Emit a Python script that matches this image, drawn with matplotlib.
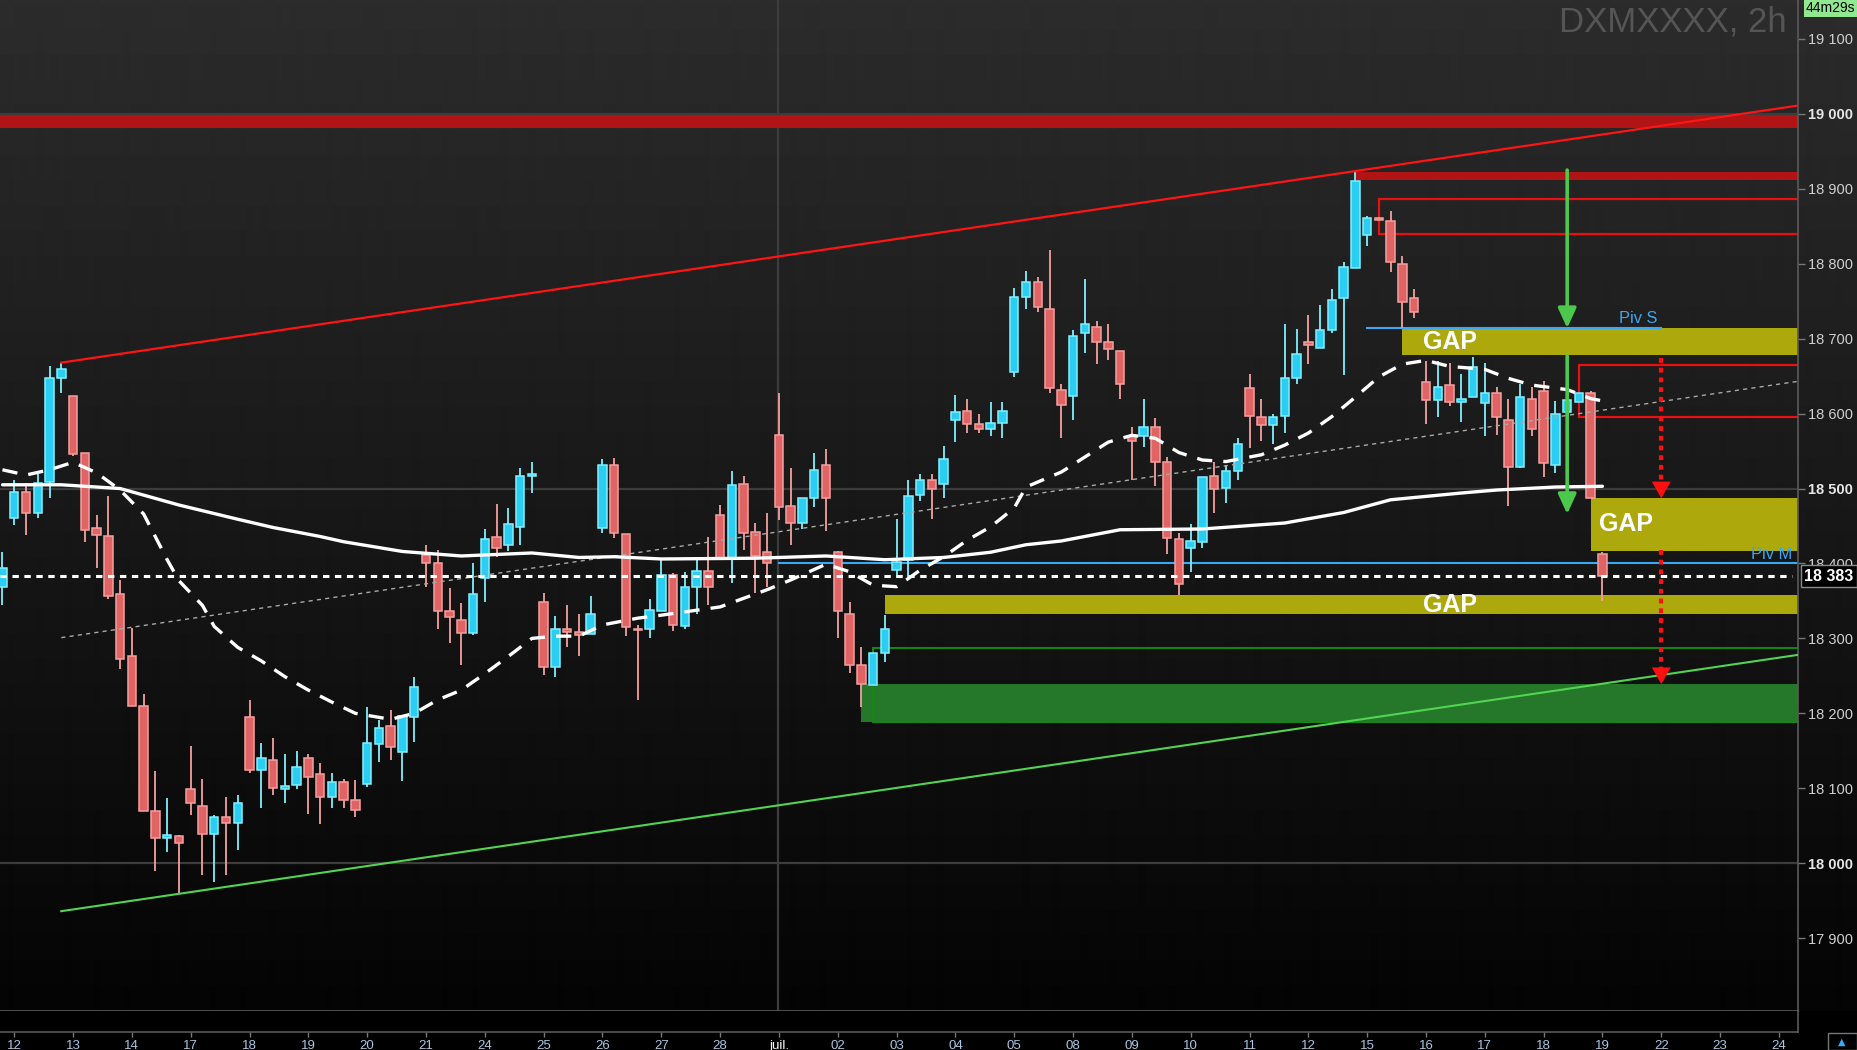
#!/usr/bin/env python3
"""DXMXXXX 2h candlestick chart: channel, moving averages, gaps and pivots."""
from __future__ import annotations

import numpy as np
import matplotlib
matplotlib.use('Agg')
import matplotlib.pyplot as plt
import matplotlib.transforms as mtransforms
from matplotlib.patches import Rectangle

# --- 2h candles, 5 bars per session; bar 0 is the last bar of 11 June
OPEN = [18369, 18461, 18496, 18468, 18509, 18648, 18624, 18547, 18447, 18437,
        18359, 18277, 18210, 18070, 18034, 18036, 18099, 18076, 18039, 18062,
        18054, 18195, 18125, 18138, 18099, 18105, 18140, 18119, 18089, 18108,
        18085, 18106, 18159, 18183, 18149, 18195, 18411, 18400, 18337, 18324,
        18307, 18380, 18435, 18424, 18449, 18517, 18348, 18262, 18313, 18309,
        18306, 18447, 18532, 18439, 18313, 18313, 18336, 18385, 18317, 18369,
        18390, 18465, 18407, 18506, 18442, 18415, 18571, 18477, 18454, 18487,
        18532, 18415, 18333, 18265, 18238, 18281, 18391, 18404, 18492, 18512,
        18506, 18591, 18603, 18586, 18579, 18588, 18655, 18755, 18775, 18739,
        18632, 18623, 18707, 18715, 18695, 18683, 18570, 18570, 18582, 18536,
        18432, 18420, 18429, 18517, 18501, 18523, 18634, 18595, 18585, 18597,
        18648, 18695, 18688, 18711, 18754, 18794, 18838, 18861, 18857, 18799,
        18754, 18642, 18618, 18638, 18616, 18622, 18614, 18628, 18592, 18529,
        18620, 18630, 18532, 18602, 18616, 18627, 18412]
HIGH = [18415, 18512, 18508, 18520, 18664, 18668, 18624, 18547, 18465, 18490,
        18378, 18314, 18226, 18123, 18087, 18038, 18156, 18113, 18064, 18089,
        18091, 18218, 18160, 18167, 18146, 18150, 18146, 18134, 18121, 18113,
        18111, 18209, 18191, 18204, 18197, 18248, 18425, 18418, 18367, 18347,
        18400, 18446, 18479, 18474, 18528, 18535, 18361, 18330, 18345, 18333,
        18356, 18539, 18541, 18439, 18318, 18353, 18405, 18387, 18389, 18404,
        18435, 18478, 18523, 18517, 18454, 18467, 18628, 18528, 18487, 18548,
        18553, 18417, 18348, 18289, 18280, 18331, 18459, 18511, 18519, 18520,
        18557, 18625, 18619, 18600, 18615, 18616, 18767, 18790, 18782, 18818,
        18640, 18712, 18780, 18724, 18719, 18683, 18582, 18619, 18594, 18542,
        18440, 18453, 18516, 18535, 18531, 18567, 18653, 18620, 18600, 18720,
        18713, 18731, 18745, 18766, 18802, 18922, 18864, 18862, 18870, 18810,
        18766, 18670, 18670, 18667, 18653, 18676, 18668, 18635, 18619, 18639,
        18635, 18643, 18617, 18618, 18627, 18630, 18415]
LOW = [18345, 18451, 18438, 18461, 18488, 18627, 18544, 18429, 18394, 18353,
       18259, 18210, 18070, 17989, 18015, 17960, 18065, 17984, 17975, 17984,
       18018, 18121, 18074, 18091, 18081, 18099, 18066, 18053, 18074, 18074,
       18062, 18102, 18135, 18138, 18110, 18162, 18369, 18313, 18294, 18264,
       18304, 18349, 18408, 18416, 18425, 18494, 18251, 18249, 18289, 18276,
       18306, 18441, 18434, 18303, 18218, 18301, 18336, 18310, 18313, 18333,
       18345, 18407, 18374, 18418, 18361, 18369, 18458, 18424, 18446, 18476,
       18443, 18300, 18254, 18209, 18238, 18269, 18381, 18382, 18484, 18459,
       18488, 18562, 18574, 18574, 18570, 18568, 18649, 18740, 18735, 18628,
       18568, 18592, 18681, 18666, 18671, 18619, 18512, 18556, 18503, 18412,
       18358, 18388, 18420, 18468, 18481, 18512, 18554, 18564, 18560, 18574,
       18639, 18666, 18688, 18707, 18651, 18794, 18823, 18858, 18789, 18714,
       18727, 18586, 18596, 18610, 18589, 18622, 18570, 18571, 18477, 18527,
       18570, 18516, 18521, 18602, 18616, 18488, 18350]
CLOSE = [18394, 18496, 18468, 18508, 18647, 18659, 18546, 18444, 18438, 18357,
         18273, 18210, 18070, 18034, 18037, 18027, 18081, 18039, 18062, 18054,
         18080, 18125, 18141, 18101, 18103, 18129, 18115, 18089, 18108, 18085,
         18071, 18161, 18181, 18155, 18197, 18235, 18400, 18337, 18328, 18307,
         18359, 18433, 18421, 18452, 18517, 18520, 18262, 18313, 18309, 18305,
         18333, 18531, 18440, 18315, 18311, 18338, 18385, 18318, 18368, 18390,
         18368, 18407, 18505, 18440, 18410, 18400, 18476, 18454, 18487, 18525,
         18487, 18336, 18265, 18239, 18280, 18313, 18402, 18490, 18511, 18500,
         18540, 18602, 18586, 18579, 18588, 18603, 18755, 18775, 18742, 18634,
         18612, 18704, 18720, 18695, 18686, 18639, 18564, 18582, 18535, 18434,
         18373, 18430, 18515, 18500, 18524, 18560, 18597, 18585, 18595, 18647,
         18679, 18692, 18712, 18752, 18795, 18911, 18861, 18858, 18802, 18749,
         18736, 18618, 18636, 18615, 18620, 18662, 18627, 18595, 18529, 18622,
         18579, 18534, 18600, 18618, 18627, 18488, 18383]

DAY_LABELS = ['12', '13', '14', '17', '18', '19', '20', '21', '24', '25', '26',
              '27', '28', 'juil.', '02', '03', '04', '05', '08', '09', '10',
              '11', '12', '15', '16', '17', '18', '19', '22', '23', '24']
BARS_PER_DAY = 5
FIRST_DAY_BAR = 1

# moving averages (bar index, value)
MA200_X = [0, 5, 10, 15, 20, 23, 27, 29, 34, 39, 45, 49, 52, 56, 64, 70, 75,
           80, 84, 87, 90, 95, 102, 109, 114, 118, 124, 127, 132, 136]
MA200_Y = [18505, 18505, 18500, 18478, 18459, 18448, 18436, 18429, 18416,
           18410, 18414, 18408, 18409, 18406, 18407, 18410, 18405, 18408,
           18415, 18425, 18430, 18445, 18446, 18454, 18468, 18485, 18494,
           18498, 18502, 18503]
MA20_X = [0, 2, 4, 6, 8, 10, 12, 14, 15, 17, 18, 20, 22, 24, 26, 28, 30, 33,
          35, 37, 39, 41, 43, 45, 47, 49, 51, 54, 56, 61, 65, 67, 70, 72, 74,
          76, 78, 80, 82, 84, 86, 87, 90, 92, 94, 96, 98, 100, 102, 104, 107,
          109, 111, 113, 115, 117, 119, 121, 123, 126, 128, 130, 133, 135, 136]
MA20_Y = [18525, 18518, 18525, 18535, 18521, 18498, 18466, 18405, 18377,
          18344, 18316, 18288, 18270, 18249, 18231, 18215, 18200, 18192,
          18200, 18218, 18231, 18253, 18276, 18300, 18303, 18303, 18318,
          18327, 18331, 18342, 18365, 18378, 18399, 18389, 18371, 18369,
          18391, 18409, 18431, 18449, 18474, 18502, 18522, 18542, 18562,
          18571, 18567, 18548, 18538, 18536, 18545, 18558, 18574, 18596,
          18622, 18649, 18666, 18671, 18663, 18659, 18647, 18638, 18632,
          18620, 18617]

# channel lines: anchor bar -> right edge
CHANNEL_X = [5, 152.6]
CHANNEL_TOP = [18668, 19011]
CHANNEL_MID = [18301, 18643]
CHANNEL_LOW = [17936, 18278]

# zones: (start bar, low, high), all run to the right edge
GAP_ZONES = [(119, 18678, 18714), (135, 18416, 18488), (75, 18332, 18358)]
GAP_TEXT_X = [123.0, 138.0, 123.0]
RED_BANDS = [(-1, 18981, 18998), (115, 18912, 18923)]
RED_BOXES = [(117, 18840, 18887), (134, 18596, 18665)]
GREEN_FILL = (73, 18188, 18239)
GREEN_BOX = (74, 18188, 18287)
PIV_S = (116, 141, 18714)
PIV_M = (66, 18400)
LAST_PRICE = 18383

GREEN_ARROWS = [(133, 18925, 18714), (133, 18677, 18466)]
RED_ARROWS = [(141, 18674, 18487), (141, 18418, 18239)]

XLIM = (-0.21, 152.62)
YLIM = (17802.8, 19151.9)

CYAN, CYAN_EDGE = '#2ccdf3', '#80f0ff'
RED, RED_EDGE = '#e06464', '#f5a0a0'
OLIVE = '#ada80c'
BLUE = '#3aa8f2'


def fmt_price(v: float) -> str:
    return f"{int(round(v)):,}".replace(',', ' ')


def main() -> None:
    plt.rcParams['font.family'] = ['Liberation Sans', 'DejaVu Sans']
    plt.rcParams['lines.scale_dashes'] = False

    W, H = 1857, 1050
    fig = plt.figure(figsize=(W / 100, H / 100), dpi=100)
    fig.patch.set_facecolor('black')

    # background gradient
    bg = fig.add_axes([0, 0, 1, 1], zorder=-10)
    rows = np.zeros(H)
    top_part = 1011
    rows[:top_part] = np.linspace(44, 4, top_part)
    bg.imshow(rows[:, None], aspect='auto', cmap='gray', vmin=0, vmax=255,
              extent=[0, 1, 0, 1], interpolation='bilinear')
    bg.axis('off')

    ax = fig.add_axes([0, 39 / H, 1798 / W, 1011 / H])
    ax.patch.set_alpha(0)
    ax.set_xlim(*XLIM)
    ax.set_ylim(*YLIM)
    xmax = XLIM[1]

    # grid
    for lvl in (18000, 18500, 19000):
        ax.axhline(lvl, color='#3c3c3c', lw=1.6, zorder=0.5)
    ax.axvline(66 - 0.08, color='#3c3c3c', lw=1.6, zorder=0.5)

    # zones
    for x0, lo, hi in GAP_ZONES:
        ax.add_patch(Rectangle((x0, lo), xmax - x0, hi - lo, fc=OLIVE,
                               ec='none', zorder=1))
    for x0, lo, hi in RED_BANDS:
        ax.add_patch(Rectangle((x0, lo), xmax - x0 + 1, hi - lo, fc='#b01414',
                               ec='none', zorder=1))
    for x0, lo, hi in RED_BOXES:
        ax.add_patch(Rectangle((x0, lo), xmax - x0 + 1, hi - lo, fc='none',
                               ec='#e81010', lw=1.6, zorder=1.2))
    x0, lo, hi = GREEN_FILL
    ax.add_patch(Rectangle((x0, lo), xmax - x0, hi - lo, fc='#25782a',
                           ec='none', zorder=1))
    x0, lo, hi = GREEN_BOX
    ax.add_patch(Rectangle((x0, lo), xmax - x0 + 1, hi - lo, fc='none',
                           ec='#128a12', lw=1.4, zorder=1.2))

    # pivots
    ax.plot([PIV_S[0], PIV_S[1]], [PIV_S[2], PIV_S[2]], color=BLUE, lw=1.5,
            zorder=2)
    ax.text(PIV_S[1] - 0.3, PIV_S[2] + 3, 'Piv S', color=BLUE, fontsize=11.8,
            ha='right', va='bottom', zorder=6)
    ax.plot([PIV_M[0], xmax], [PIV_M[1], PIV_M[1]], color=BLUE, lw=1.5,
            zorder=2)
    ax.text(xmax - 0.5, PIV_M[1] + 2, 'Piv M', color=BLUE, fontsize=11.8,
            ha='right', va='bottom', zorder=6)

    # candles
    o, h, l, c = (np.asarray(a, float) for a in (OPEN, HIGH, LOW, CLOSE))
    idx = np.arange(len(o))
    up = c >= o
    for mask, face, edge in ((up, CYAN, CYAN_EDGE), (~up, RED, RED_EDGE)):
        ax.vlines(idx[mask], l[mask], h[mask], color=edge, lw=1.3, zorder=3)
        ax.bar(idx[mask], (c - o)[mask], bottom=o[mask], width=0.72,
               color=face, edgecolor=edge, linewidth=1.1, zorder=3.1)

    # channel
    ax.plot(CHANNEL_X, CHANNEL_TOP, color='#ff1414', lw=1.6, zorder=4)
    ax.plot(CHANNEL_X, CHANNEL_LOW, color='#52d452', lw=1.5, zorder=4)
    ax.plot(CHANNEL_X, CHANNEL_MID, color='#a8a8a8', lw=1.0,
            dashes=(3, 3), zorder=4)

    # moving averages
    ax.plot(MA200_X, MA200_Y, color='white', lw=2.4, zorder=4.2,
            solid_capstyle='round', solid_joinstyle='round')
    ax.plot(MA20_X, MA20_Y, color='white', lw=2.4, dashes=(11, 8),
            zorder=4.2)

    # last price
    ax.plot([XLIM[0], xmax - 0.5], [LAST_PRICE, LAST_PRICE], color='white',
            lw=2.2, dashes=(4.6, 4), zorder=4.5)

    # GAP labels
    for (x0, lo, hi), tx in zip(GAP_ZONES, GAP_TEXT_X):
        ax.text(tx, (lo + hi) / 2, 'GAP', color='white', fontsize=18,
                fontweight='bold', ha='center', va='center', zorder=6)

    # arrows
    for x, y0, y1 in GREEN_ARROWS:
        ax.annotate('', xy=(x, y1), xytext=(x, y0), zorder=5,
                    arrowprops=dict(arrowstyle='-|>,head_length=1.2,head_width=0.55',
                                    color='#4cc84c', lw=2.6, shrinkA=0,
                                    shrinkB=0, mutation_scale=10))
    for x, y0, y1 in RED_ARROWS:
        ax.plot([x, x], [y0, y1 + 15], color='#ff1010', lw=3.0,
                dashes=(3.5, 3.5), zorder=5)
        ax.annotate('', xy=(x, y1), xytext=(x, y1 + 30), zorder=5,
                    arrowprops=dict(arrowstyle='-|>,head_length=1.2,head_width=0.68',
                                    color='#ff1010', lw=0, shrinkA=0,
                                    shrinkB=0, mutation_scale=10))

    # axes styling
    for side in ('left', 'top'):
        ax.spines[side].set_visible(False)
    ax.spines['right'].set_color('#5a5a5a')
    ax.spines['bottom'].set_color('#5a5a5a')
    ax.spines['right'].set_linewidth(1.2)
    ax.spines['bottom'].set_linewidth(1.2)
    ax.set_xticks([])
    ax.yaxis.tick_right()
    yt = list(range(17900, 19101, 100))
    ax.set_yticks(yt)
    ax.set_yticklabels([fmt_price(v) for v in yt])
    ax.tick_params(axis='y', length=5, width=1, color='#777777',
                   labelcolor='#cfcfcf', labelsize=10.5, pad=2)
    for v, lab in zip(yt, ax.get_yticklabels()):
        if v % 500 == 0:
            lab.set_fontweight('bold')
            lab.set_color('#e6e6e6')

    blend = mtransforms.blended_transform_factory(ax.transAxes, ax.transData)
    ax.text(1.0035, LAST_PRICE, fmt_price(LAST_PRICE), transform=blend,
            ha='left', va='center', color='white', fontsize=11.5,
            fontweight='bold', zorder=7, clip_on=False,
            bbox=dict(boxstyle='square,pad=0.22', fc='black', ec='#8a8a8a',
                      lw=1))

    # bottom date strip
    sx = fig.add_axes([0, 18 / H, 1798 / W, 21 / H], sharex=ax)
    sx.set_facecolor('black')
    sx.set_yticks([])
    sx.spines['top'].set_visible(False)
    sx.spines['left'].set_visible(False)
    for side in ('bottom', 'right'):
        sx.spines[side].set_color('#5a5a5a')
        sx.spines[side].set_linewidth(1.2)
    ticks = [FIRST_DAY_BAR + BARS_PER_DAY * k for k in range(len(DAY_LABELS))]
    sx.set_xticks(ticks)
    sx.set_xticklabels(DAY_LABELS)
    sx.tick_params(axis='x', length=3.5, width=1, color='#777777',
                   labelcolor='#a9c6e3', labelsize=9.5, pad=2)
    for lab in sx.get_xticklabels():
        if lab.get_text() == 'juil.':
            lab.set_color('white')
    sx.set_xlim(*XLIM)

    # header texts
    fig.text(1787 / W, 1 - 32 / H, 'DXMXXXX, 2h', ha='right', va='baseline',
             fontsize=25, color='#555555')
    fig.text(1806 / W, 1 - 8 / H, '44m29s', ha='left', va='center',
             fontsize=10, color='black',
             bbox=dict(boxstyle='square,pad=0.12', fc='#90e890', ec='none'))

    # small corner button
    fig.add_artist(Rectangle((1828 / W, 0), 29 / W, 17 / H,
                             transform=fig.transFigure, fc='black',
                             ec='#777777', lw=1))
    fig.text(1842 / W, 8 / H, '\u25b2', ha='center', va='center',
             fontsize=7, color=BLUE, family='DejaVu Sans')

    fig.savefig('out.png', dpi=100, facecolor=fig.get_facecolor())
    plt.close(fig)


if __name__ == '__main__':
    main()
